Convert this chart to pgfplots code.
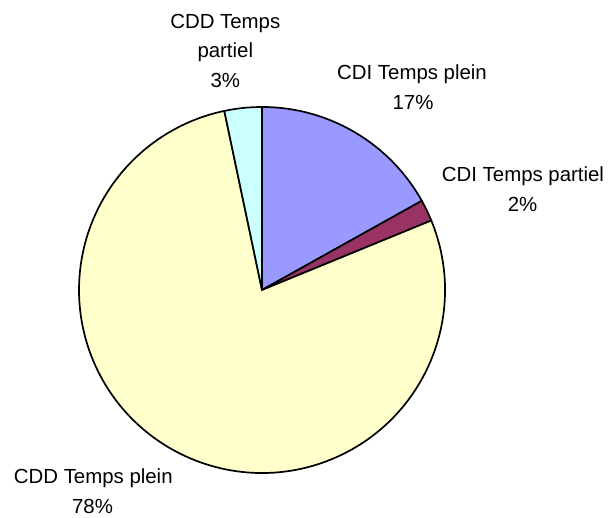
\documentclass[border=0pt]{standalone}
\usepackage{pgfplots}
\pgfplotsset{compat=1.18}
\usepackage{pgfplotstable}
\usepackage{fontspec}
\setmainfont{Liberation Sans}
\definecolor{sA}{HTML}{9999FF}
\definecolor{sB}{HTML}{993366}
\definecolor{sC}{HTML}{FFFFCC}
\definecolor{sD}{HTML}{CCFFFF}

\pgfplotstableread[col sep=comma]{
name,value
CDI Temps plein,16.9
CDI Temps partiel,1.9
CDD Temps plein,77.9
CDD Temps partiel,3.3
}\piedata
\pgfplotstablegetelem{0}{value}\of\piedata\pgfmathsetmacro\vA{\pgfplotsretval}%
\pgfplotstablegetelem{1}{value}\of\piedata\pgfmathsetmacro\vB{\pgfplotsretval}%
\pgfplotstablegetelem{2}{value}\of\piedata\pgfmathsetmacro\vC{\pgfplotsretval}%
\pgfplotstablegetelem{3}{value}\of\piedata\pgfmathsetmacro\vD{\pgfplotsretval}%
\pgfmathsetmacro\aA{90}%
\pgfmathsetmacro\aB{\aA-3.6*\vA}%
\pgfmathsetmacro\aC{\aB-3.6*\vB}%
\pgfmathsetmacro\aD{\aC-3.6*\vC}%
\pgfmathsetmacro\aE{\aD-3.6*\vD}%

\begin{document}
\begin{tikzpicture}
\begin{axis}[width=616pt,height=518pt,scale only axis,
  xmin=0,xmax=616,ymin=0,ymax=518,hide axis,clip=false]
\filldraw[fill=sA,draw=black,line width=1.7pt,line join=round] (axis cs:262,228) -- ++(\aA:183pt) arc[start angle=\aA,end angle=\aB,radius=183pt] -- cycle;
\filldraw[fill=sB,draw=black,line width=1.7pt,line join=round] (axis cs:262,228) -- ++(\aB:183pt) arc[start angle=\aB,end angle=\aC,radius=183pt] -- cycle;
\filldraw[fill=sC,draw=black,line width=1.7pt,line join=round] (axis cs:262,228) -- ++(\aC:183pt) arc[start angle=\aC,end angle=\aD,radius=183pt] -- cycle;
\filldraw[fill=sD,draw=black,line width=1.7pt,line join=round] (axis cs:262,228) -- ++(\aD:183pt) arc[start angle=\aD,end angle=\aE,radius=183pt] -- cycle;
\begin{scope}[every node/.style={anchor=base,inner sep=0pt,font=\fontsize{20.4}{24}\selectfont}]
\node at (axis cs:225.3,489.7) {CDD Temps};
\node at (axis cs:225.3,460.2) {partiel};
\node at (axis cs:225.3,430.7) {3\%};
\node at (axis cs:412,438) {CDI Temps plein};
\node at (axis cs:413,408) {17\%};
\node at (axis cs:523,336.3) {CDI Temps partiel};
\node at (axis cs:522.6,306.3) {2\%};
\node at (axis cs:93.3,34.7) {CDD Temps plein};
\node at (axis cs:92.5,4.7) {78\%};
\end{scope}
\end{axis}
\pgfresetboundingbox
\path (0,0) rectangle (616pt,518pt);
\end{tikzpicture}
\end{document}
